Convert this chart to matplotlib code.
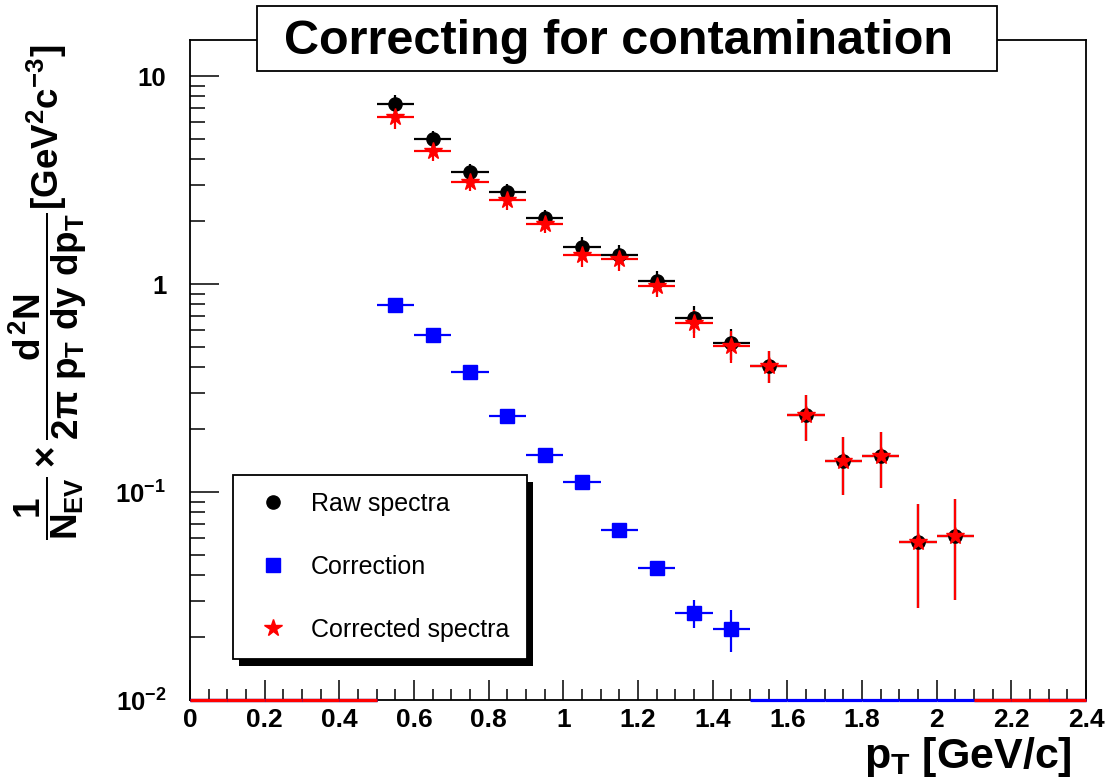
import numpy as np
import matplotlib
matplotlib.use("Agg")
import matplotlib.pyplot as plt
from matplotlib.lines import Line2D
from matplotlib.patches import Rectangle
from matplotlib.ticker import MultipleLocator, NullFormatter

plt.rcParams['font.family'] = ['Liberation Sans', 'DejaVu Sans']
plt.rcParams['mathtext.fontset'] = 'custom'
plt.rcParams['mathtext.rm'] = 'Liberation Sans:bold'
plt.rcParams['mathtext.it'] = 'Liberation Sans:bold'
plt.rcParams['mathtext.bf'] = 'Liberation Sans:bold'
plt.rcParams['mathtext.sf'] = 'Liberation Sans:bold'

# pT bin centres [GeV/c], bin half width 0.05
pt_raw = [0.55, 0.65, 0.75, 0.85, 0.95, 1.05, 1.15, 1.25,
          1.35, 1.45, 1.55, 1.65, 1.75, 1.85, 1.95, 2.05]
raw = [7.32, 4.96, 3.46, 2.78, 2.07, 1.51, 1.38, 1.03,
       0.684, 0.519, 0.404, 0.2335, 0.1404, 0.1495, 0.0576, 0.0613]
raw_err = [0.80, 0.47, 0.30, 0.25, 0.19, 0.17, 0.16, 0.12,
           0.10, 0.09, 0.07, 0.058, 0.044, 0.045, 0.030, 0.031]

pt_corr = [0.55, 0.65, 0.75, 0.85, 0.95, 1.05, 1.15, 1.25, 1.35, 1.45]
correction = [0.794, 0.570, 0.377, 0.2327, 0.150, 0.1113, 0.066, 0.0432, 0.0263, 0.0220]
correction_err = [0.03, 0.02, 0.012, 0.008, 0.005, 0.004, 0.002, 0.003, 0.004, 0.005]

pt_fixed = pt_raw
corrected = [6.36, 4.37, 3.10, 2.53, 1.94, 1.38, 1.32, 0.982,
             0.653, 0.505, 0.404, 0.2335, 0.1404, 0.1495, 0.0576, 0.0613]
corrected_err = raw_err

bin_half = 0.05
x_edges = np.round(np.arange(0.0, 2.41, 0.1), 2)

labels = ['Raw spectra', 'Correction', 'Corrected spectra']

# figure / frame
fig = plt.figure(figsize=(11.11, 7.84), dpi=100)
W, H = 1111., 784.
ax = fig.add_axes([190/W, 84/H, 896/W, 660/H])
ax.set_yscale('log')
ax.set_xlim(0, 2.4)
ax.set_ylim(0.01, 14.9)

series = [
    (pt_raw, raw, raw_err, 'black', 'o', 9.5),
    (pt_corr, correction, correction_err, 'blue', 's', 9.5),
    (pt_fixed, corrected, corrected_err, 'red', '*', 13),
]

for x, y, e, col, mk, ms in series:
    ax.errorbar(x, y, yerr=e, xerr=bin_half, fmt=mk, color=col,
                ms=ms, mec=col, elinewidth=1.6, capsize=0, zorder=3)
    # empty bins drawn along the bottom edge (ROOT style)
    for lo, hi in zip(x_edges[:-1], x_edges[1:]):
        c = round((lo + hi) / 2, 2)
        if not any(abs(c - xi) < 1e-6 for xi in x):
            ax.plot([lo, hi], [0.01, 0.01], color=col, lw=2.3,
                    clip_on=False, zorder=3, solid_capstyle='butt')

# axes styling
for s in ax.spines.values():
    s.set_linewidth(1.3)
ax.set_xticks(np.round(np.arange(0, 2.41, 0.2), 1))
ax.set_xticklabels(['0', '0.2', '0.4', '0.6', '0.8', '1', '1.2', '1.4',
                    '1.6', '1.8', '2', '2.2', '2.4'])
ax.xaxis.set_minor_locator(MultipleLocator(0.05))
ax.set_yticks([0.01, 0.1, 1, 10])
ax.set_yticklabels([r'$10^{-2}$', r'$10^{-1}$', '1', '10'])
ax.yaxis.set_minor_formatter(NullFormatter())
ax.tick_params(axis='x', which='major', direction='in', length=14.5, width=1.1,
               top=False, labelsize=19, pad=6)
ax.tick_params(axis='x', which='minor', direction='in', length=7.7, width=1.1, top=False)
ax.tick_params(axis='y', which='major', direction='in', length=21, width=1.1,
               right=False, labelsize=18.5, pad=17)
ax.tick_params(axis='y', which='minor', direction='in', length=11, width=1.1, right=False)
for t in ax.get_xticklabels() + ax.get_yticklabels():
    t.set_fontweight('bold')

# axis titles
fig.text(1072/W, 1 - 757/H, r'$p_{T}$ [GeV/c]', fontsize=31, fontweight='bold',
         ha='right', va='center')
fig.text(48/W, 1 - 292/H,
         r'$\dfrac{1}{N_{EV}}\times\dfrac{d^{2}N}{2\pi\ p_{T}\ dy\ dp_{T}}$[GeV$^{2}$c$^{-3}$]',
         fontsize=26.5, fontweight='bold', rotation=90, ha='center', va='center')

# title box
fig.patches.append(Rectangle((257/W, 1 - 71/H), 740/W, 65/H, transform=fig.transFigure,
                             facecolor='white', edgecolor='black', lw=1.3, zorder=5))
fig.text(618/W, 1 - 42/H, 'Correcting for contamination', fontsize=35,
         fontweight='bold', ha='center', va='center', zorder=6)

# legend
handles = [Line2D([], [], ls='none', marker=mk, color=col, mec=col, ms=ms)
           for _, _, _, col, mk, ms in series]
leg = ax.legend(handles, labels, loc='upper left',
                bbox_to_anchor=(233/W, 1 - 659/H, 294/W, 184/H),
                bbox_transform=fig.transFigure, mode='expand', borderaxespad=0,
                fontsize=18, frameon=True, fancybox=False, edgecolor='black',
                framealpha=1, borderpad=0.68, labelspacing=1.55,
                handlelength=1.85, handletextpad=0.58)
leg.get_frame().set_linewidth(1.3)
fig.canvas.draw()
bb = leg.get_frame().get_window_extent()
inv = ax.transAxes.inverted()
(x0, y0), (x1, y1) = inv.transform([[bb.x0 + 6, bb.y0 - 7], [bb.x1 + 6, bb.y1 - 7]])
ax.add_patch(Rectangle((x0, y0), x1 - x0, y1 - y0, transform=ax.transAxes,
                       facecolor='black', edgecolor='none', clip_on=False, zorder=4.9))

fig.savefig('out.png', dpi=100)
